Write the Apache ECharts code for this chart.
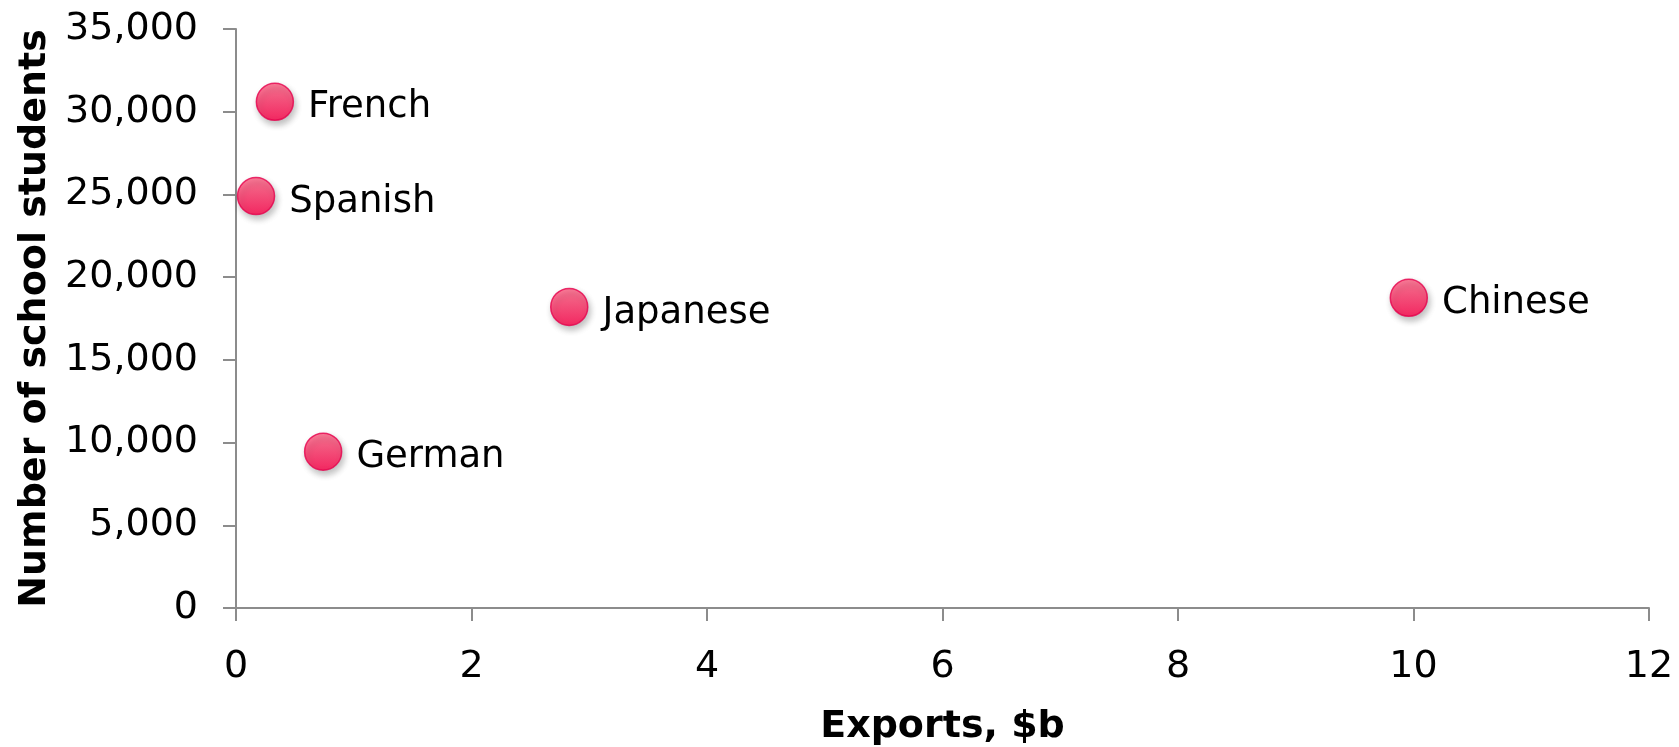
<!DOCTYPE html>
<html>
<head>
<meta charset="utf-8">
<script src="https://cdn.jsdelivr.net/npm/echarts@6/dist/echarts.min.js"></script>
<style>
html, body { margin: 0; padding: 0; background: #fff; }
#chart { width: 1679px; height: 747px; }
</style>
</head>
<body>
<div id="chart"></div>
<script>
// languages, exports ($b) and number of school students
var languages = ['French', 'Spanish', 'Japanese', 'German', 'Chinese'];
var exportsB = [0.33, 0.17, 2.83, 0.74, 9.96];
var students = [30600, 24900, 18200, 9450, 18750];

var xTicks = { min: 0, max: 12, interval: 2 };
var yTicks = { min: 0, max: 35000, interval: 5000 };

var chart = echarts.init(document.getElementById('chart'));

var points = languages.map(function (name, i) {
    return { name: name, value: [exportsB[i], students[i]] };
});

var axisLine = { show: true, lineStyle: { color: '#8c8c8c', width: 2 } };
var axisTick = { show: true, inside: false, length: 13, lineStyle: { color: '#8c8c8c', width: 2 } };

var option = {
    backgroundColor: '#fff',
    animation: false,
    grid: { left: 236, right: 30, top: 29, bottom: 139, containLabel: false, outerBoundsMode: 'none' },
    xAxis: {
        type: 'value',
        min: xTicks.min,
        max: xTicks.max,
        interval: xTicks.interval,
        name: 'Exports, $b',
        nameLocation: 'middle',
        nameGap: 100,
        nameTextStyle: { fontFamily: 'DejaVu Sans', fontWeight: 'bold', fontSize: 38, color: '#000' },
        axisLine: axisLine,
        axisTick: axisTick,
        splitLine: { show: false },
        axisLabel: { fontFamily: 'DejaVu Sans', fontSize: 38, color: '#000', margin: 40 }
    },
    yAxis: {
        type: 'value',
        min: yTicks.min,
        max: yTicks.max,
        interval: yTicks.interval,
        name: 'Number of school students',
        nameLocation: 'middle',
        nameGap: 177,
        nameTextStyle: { fontFamily: 'DejaVu Sans', fontWeight: 'bold', fontSize: 38, color: '#000' },
        axisLine: axisLine,
        axisTick: axisTick,
        splitLine: { show: false },
        axisLabel: {
            fontFamily: 'DejaVu Sans', fontSize: 38, color: '#000', margin: 38,
            formatter: function (v) { return v.toLocaleString('en-US'); }
        }
    },
    series: [{
        type: 'scatter',
        symbol: 'circle',
        symbolSize: 37,
        data: points,
        itemStyle: {
            color: new echarts.graphic.LinearGradient(0, 0, 0, 1, [
                { offset: 0, color: '#ff6083' },
                { offset: 1, color: '#ff0048' }
            ]),
            borderColor: '#e6004c',
            borderWidth: 1.5,
            shadowColor: 'rgba(0,0,0,0.3)',
            shadowBlur: 6,
            shadowOffsetX: 2,
            shadowOffsetY: 4
        },
        label: {
            show: true,
            position: 'right',
            distance: 14,
            offset: [0, 6],
            formatter: '{b}',
            fontFamily: 'DejaVu Sans',
            fontSize: 37,
            color: 'rgb(0,0,0)',
            opacity: 1,
            textBorderWidth: 0
        }
    }]
};

chart.setOption(option);
</script>
</body>
</html>
